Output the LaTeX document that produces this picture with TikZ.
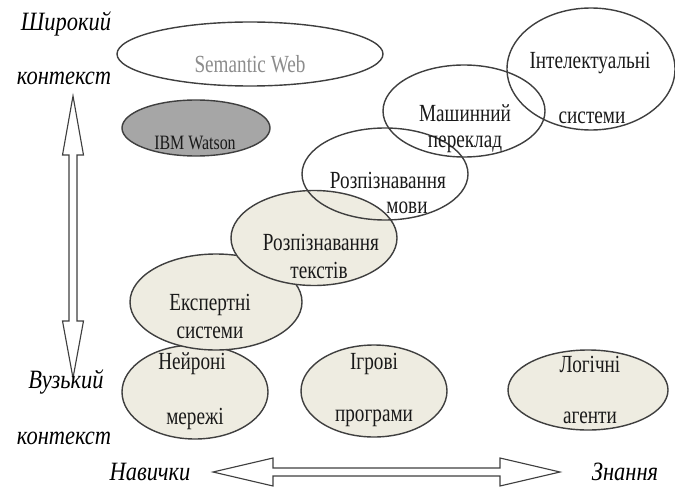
\documentclass[tikz,border=0pt]{standalone}
\usepackage{fontspec}
\setmainfont{Liberation Serif}
\newfontfamily\narrowfont{Liberation Serif}[FakeStretch=0.78]
\newfontfamily\slantfont{Liberation Serif}[FakeStretch=0.85]
\usepackage{xcolor}
\usetikzlibrary{shapes.geometric}
\definecolor{AreaFill}{HTML}{EEECE1}
\definecolor{WatsonGray}{HTML}{A6A6A6}
\definecolor{EdgeGray}{HTML}{3F3F3F}
\definecolor{WebGray}{HTML}{8C8C8C}

\begin{document}
\begin{tikzpicture}[x=0.025cm, y=-0.025cm,
  area/.style={ellipse, draw=EdgeGray, line width=1pt, inner sep=0pt},
  filled/.style={area, fill=AreaFill},
  lbl/.style={font=\narrowfont\fontsize{17.5}{20}\selectfont, text=black!90, inner sep=0pt},
  axislbl/.style={font=\slantfont\itshape\fontsize{18.8}{22}\selectfont, inner sep=0pt},
  axisarrow/.style={draw=EdgeGray, line width=0.8pt, fill=white, line join=miter}]
  \useasboundingbox (0,0) rectangle (675,492);

  \node[filled, minimum width=146*0.025cm, minimum height=94*0.025cm] (neur) at (195,392) {};
  \node[filled, minimum width=146*0.025cm, minimum height=92*0.025cm] (igr) at (374,391) {};
  \node[filled, minimum width=160*0.025cm, minimum height=80*0.025cm] (log) at (588,390) {};
  \node[filled, minimum width=172*0.025cm, minimum height=96*0.025cm] (eksp) at (216,302) {};
  \node[filled, minimum width=166*0.025cm, minimum height=95*0.025cm] (rtext) at (314,238) {};
  \node[area, minimum width=166*0.025cm, minimum height=92*0.025cm] (rmova) at (385,174) {};
  \node[area, minimum width=162*0.025cm, minimum height=92*0.025cm] (mash) at (464,111) {};
  \node[area, minimum width=168*0.025cm, minimum height=122*0.025cm] (intel) at (591,69) {};
  \node[area, minimum width=266*0.025cm, minimum height=64*0.025cm] (sweb) at (250,54) {};
  \node[area, fill=WatsonGray, minimum width=148*0.025cm, minimum height=56*0.025cm] (ibm) at (196,128) {};

  \node[lbl, text=WebGray] (sweb-t) at (250,64) {Semantic Web};
  \node[lbl, font=\narrowfont\fontsize{14.5}{17}\selectfont] (ibm-t) at (195,143) {IBM Watson};
  \node[lbl] (intel-a) at (590,63) {Інтелектуальні};
  \node[lbl] (intel-b) at (592,118) {системи};
  \node[lbl] (mash-a) at (465,113) {Машинний};
  \node[lbl] (mash-b) at (465,144) {переклад};
  \node[lbl] (rmova-a) at (388,180) {Розпізнавання};
  \node[lbl] (rmova-b) at (407,208) {мови};
  \node[lbl] (rtext-a) at (321,242) {Розпізнавання};
  \node[lbl] (rtext-b) at (319,270) {текстів};
  \node[lbl] (eksp-a) at (210,305) {Експертні};
  \node[lbl] (eksp-b) at (210,333) {системи};
  \node[lbl] (neur-a) at (192,364) {Нейроні};
  \node[lbl] (neur-b) at (195,419) {мережі};
  \node[lbl] (igr-a) at (374,364) {Ігрові};
  \node[lbl] (igr-b) at (374,418) {програми};
  \node[lbl] (log-a) at (590,364) {Логічні};
  \node[lbl] (log-b) at (590,418) {агенти};

  \draw[axisarrow] (73,96) -- (83.5,155) -- (77,155) -- (77,321) -- (83.5,321) -- (73,378)
    -- (62.5,321) -- (69,321) -- (69,155) -- (62.5,155) -- cycle;
  \draw[axisarrow] (213,472) -- (273,458) -- (273,468) -- (500,468) -- (500,458) -- (560,472)
    -- (500,486) -- (500,476) -- (273,476) -- (273,486) -- cycle;

  \node[axislbl] (wide-a) at (66,24) {Широкий};
  \node[axislbl] (wide-b) at (64,78) {контекст};
  \node[axislbl] (narrow-a) at (66,382) {Вузький};
  \node[axislbl] (narrow-b) at (64,438) {контекст};
  \node[axislbl] (skills) at (150,472) {Навички};
  \node[axislbl] (knowl) at (625,472) {Знання};
\end{tikzpicture}
\end{document}
